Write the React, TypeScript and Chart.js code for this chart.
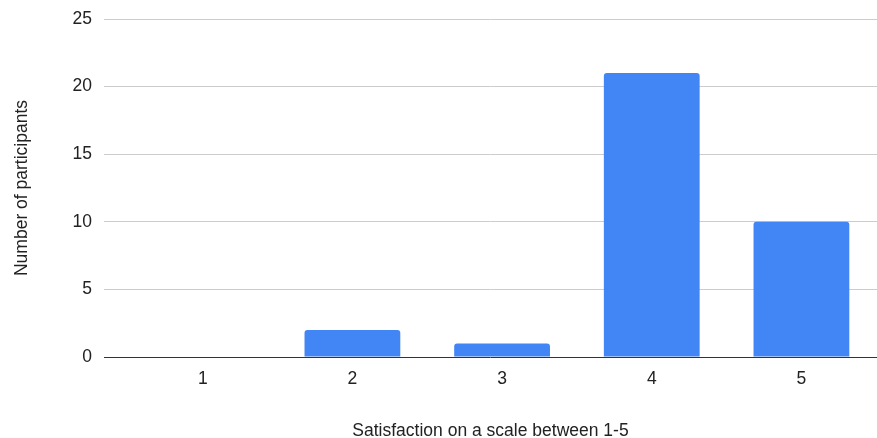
import React, { useEffect, useRef } from "react";
import { Chart, registerables } from "chart.js";

Chart.register(...registerables);

// Satisfaction ratings (1-5) and how many participants chose each
const ratings = [1, 2, 3, 4, 5];
const participants = [0, 2, 1, 21, 10];
const yTicks = [0, 5, 10, 15, 20, 25];

const BAR_BLUE = "#4285F4";
const TEXT = "#222222";
const FONT = "'Liberation Sans', Arial, Helvetica, sans-serif";
const FONT_SIZE = 17.5;

export default function App() {
  const canvasRef = useRef<HTMLCanvasElement | null>(null);

  useEffect(() => {
    const canvas = canvasRef.current;
    if (!canvas) return;

    const chart = new Chart(canvas, {
      type: "bar",
      data: {
        datasets: [
          {
            label: "Participants",
            data: ratings.map((r, i) => ({ x: r, y: participants[i] })),
            backgroundColor: BAR_BLUE,
            borderWidth: 0,
            borderRadius: { topLeft: 3, topRight: 3, bottomLeft: 0, bottomRight: 0 },
            borderSkipped: "start",
            categoryPercentage: 1,
            barPercentage: 0.64,
          },
        ],
      },
      options: {
        responsive: false,
        animation: false,
        layout: { padding: { top: 0, right: 0, bottom: 0, left: 0 } },
        plugins: {
          legend: { display: false },
          tooltip: { enabled: false },
        },
        scales: {
          x: {
            type: "linear",
            offset: false,
            min: 0.34,
            max: 5.505,
            afterBuildTicks: (scale: any) => {
              scale.ticks = ratings.map((v) => ({ value: v }));
            },
            grid: { display: false },
            border: { display: false },
            ticks: {
              padding: 4,
              color: TEXT,
              font: { family: FONT, size: FONT_SIZE },
              callback: (v: any) => String(v),
            },
            title: {
              display: true,
              text: "Satisfaction on a scale between 1-5",
              color: TEXT,
              font: { family: FONT, size: FONT_SIZE, lineHeight: 0.8 },
              padding: { top: 30, bottom: 0 },
            },
          },
          y: {
            min: 0,
            max: 25,
            afterBuildTicks: (scale: any) => {
              scale.ticks = yTicks.map((v) => ({ value: v }));
            },
            grid: {
              drawTicks: false,
              color: (ctx: any) => (ctx.tick && ctx.tick.value === 0 ? "#333333" : "#cccccc"),
              lineWidth: 1,
            },
            border: { display: false },
            ticks: {
              padding: 12,
              color: TEXT,
              font: { family: FONT, size: FONT_SIZE, lineHeight: 0.8 },
            },
            title: {
              display: true,
              text: "Number of participants",
              color: TEXT,
              font: { family: FONT, size: FONT_SIZE },
              padding: { top: 12, bottom: 27.5 },
            },
          },
        },
      },
    });

    return () => chart.destroy();
  }, []);

  return (
    <div style={{ position: "absolute", left: 0, top: 0, width: 877, height: 438, background: "#ffffff" }}>
      <canvas ref={canvasRef} width={877} height={438} style={{ display: "block" }} />
    </div>
  );
}
